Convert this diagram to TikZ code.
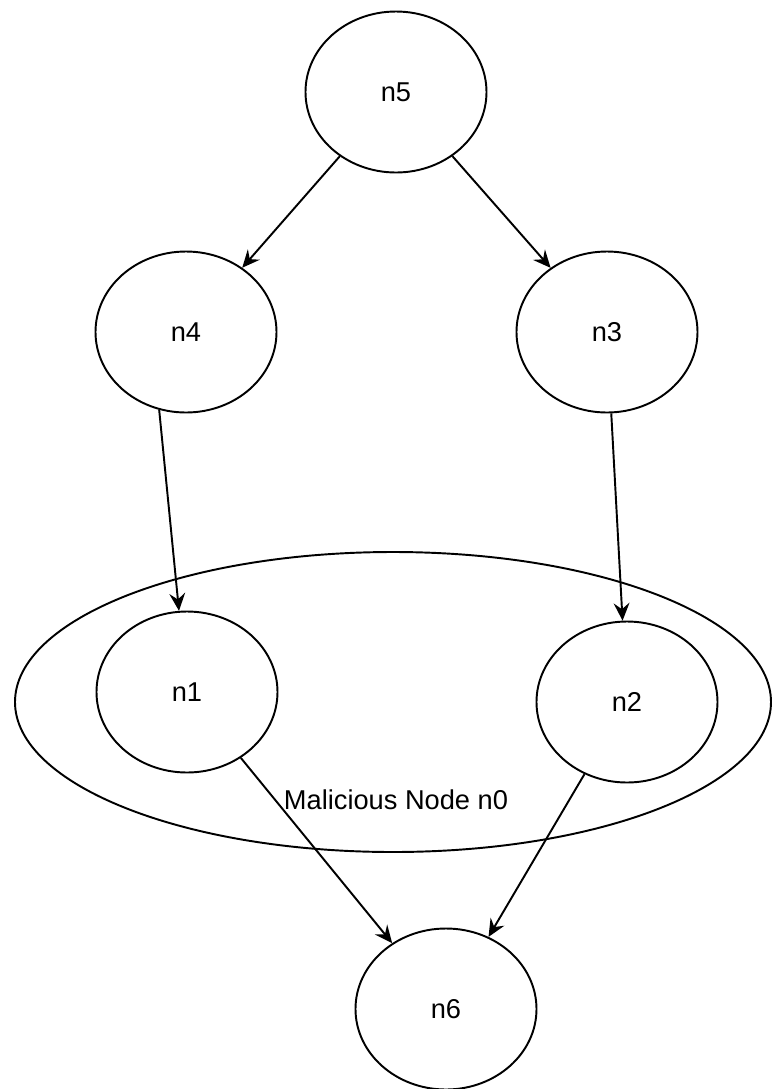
\documentclass[tikz,border=0pt]{standalone}
\usepackage{fontspec}
\setmainfont{Liberation Sans}
\usetikzlibrary{shapes.geometric, arrows.meta}

\tikzset{
    peer/.style={ellipse, draw, line width=1.1pt, inner sep=0pt,
                 minimum width=3.62cm, minimum height=3.22cm,
                 font=\fontsize{15.5pt}{18pt}\selectfont},
    group/.style={ellipse, draw, line width=1.1pt, inner sep=0pt,
                  minimum width=15.12cm, minimum height=6cm},
    flow/.style={-{Stealth[length=10pt, width=9pt, inset=3.5pt]}, line width=1.1pt}
}

\begin{document}
\begin{tikzpicture}
    \useasboundingbox (0,0) rectangle (15.46,-21.78);

    % the malicious node n0 wraps n1 and n2
    \node[group] (n0) at (7.86,-14.04) {};
    \node[font=\fontsize{15.5pt}{18pt}\selectfont] (n0label) at (7.92,-16.0) {Malicious Node n0};

    \node[peer] (n5) at (7.92,-1.84) {n5};
    \node[peer] (n4) at (3.72,-6.64) {n4};
    \node[peer] (n3) at (12.14,-6.64) {n3};
    \node[peer] (n1) at (3.74,-13.84) {n1};
    \node[peer] (n2) at (12.54,-14.04) {n2};
    \node[peer] (n6) at (8.92,-20.18) {n6};

    \draw[flow] (n5) -- (n4);
    \draw[flow] (n5) -- (n3);
    \draw[flow] (n4.-109) -- (n1);
    \draw[flow] (n3.-87) -- (n2);
    \draw[flow] (n1) -- (n6);
    \draw[flow] (n2) -- (n6);
\end{tikzpicture}
\end{document}
